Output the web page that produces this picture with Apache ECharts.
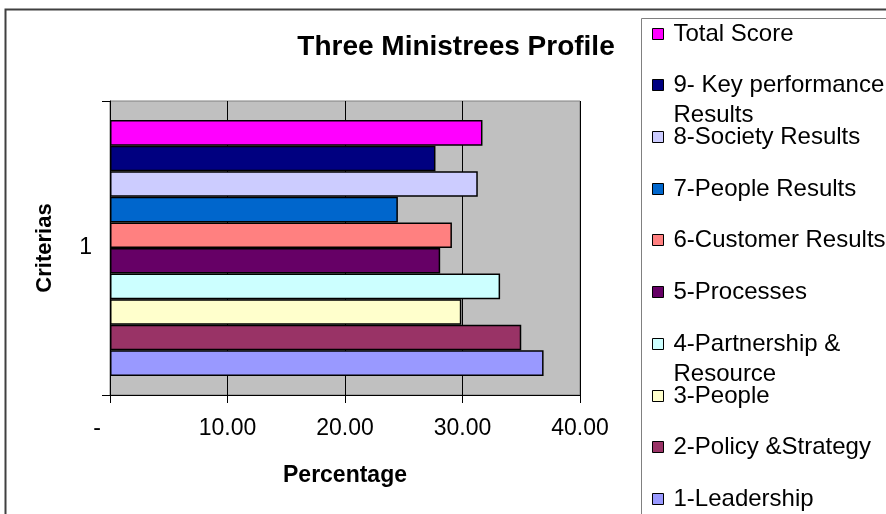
<!DOCTYPE html>
<html>
<head>
<meta charset="utf-8">
<script src="https://cdn.jsdelivr.net/npm/echarts@6/dist/echarts.min.js"></script>
<style>
  html, body { margin: 0; padding: 0; background: #ffffff; }
  #chart { width: 886px; height: 514px; }
</style>
</head>
<body>
<div id="chart"></div>
<script>
// Chart data
const categories = ['1'];
const seriesNames = [
  'Total Score',
  '9- Key performance\nResults',
  '8-Society Results',
  '7-People Results',
  '6-Customer Results',
  '5-Processes',
  '4-Partnership &\nResource',
  '3-People',
  '2-Policy &Strategy',
  '1-Leadership'
];
const seriesValues = [31.7, 27.7, 31.3, 24.5, 29.1, 28.1, 33.2, 29.9, 35.0, 36.9];
const seriesColors = [
  '#FF00FF', '#000080', '#CCCCFF', '#0066CC', '#FF8080',
  '#660066', '#CCFFFF', '#FFFFCC', '#993366', '#9999FF'
];
const xTickValues = [0, 10, 20, 30, 40];

const FONT = '"Liberation Sans", Arial, Helvetica, sans-serif';

// Vertical centre of each legend entry's first line
const legendRowY = [34, 85, 137, 189, 240, 292, 344, 396, 447, 499];

const series = seriesNames.map((name, i) => ({
  name: name,
  type: 'bar',
  data: [seriesValues[i]],
  barGap: '0%',
  barCategoryGap: '13%',
  itemStyle: { color: seriesColors[i], borderColor: '#000000', borderWidth: 1.5 },
  emphasis: { disabled: true },
  silent: true
}));

const LINE_H = 30;
const legends = seriesNames.map((name, i) => {
  const multi = name.indexOf('\n') >= 0;
  const h = multi ? LINE_H * 3 : LINE_H;
  return {
    data: [name],
    left: 652,
    top: legendRowY[i] - h / 2,
    padding: 0,
    orient: 'vertical',
    icon: 'rect',
    itemWidth: 11,
    itemHeight: 11,
    selectedMode: false,
    itemStyle: { borderColor: '#000000', borderWidth: 1 },
    formatter: n => (n.indexOf('\n') >= 0 ? '\n' + n : n),
    textStyle: {
      fontFamily: FONT, fontSize: 24, color: '#000000',
      lineHeight: LINE_H, padding: [0, 0, 0, 5]
    }
  };
});

const chart = echarts.init(document.getElementById('chart'), null, { renderer: 'canvas' });
chart.setOption({
  animation: false,
  backgroundColor: '#ffffff',
  title: {
    text: 'Three Ministrees Profile',
    left: 451,
    top: 28,
    textAlign: 'center',
    textStyle: { fontFamily: FONT, fontSize: 28, fontWeight: 'bold', color: '#000000' }
  },
  legend: legends,
  grid: {
    left: 110, right: 306, top: 101, bottom: 119,
    show: true, backgroundColor: '#C0C0C0', borderColor: '#808080', borderWidth: 1
  },
  xAxis: {
    type: 'value',
    min: 0, max: 40, interval: 10,
    name: 'Percentage',
    nameLocation: 'middle',
    nameGap: 69,
    nameTextStyle: { fontFamily: FONT, fontSize: 23, fontWeight: 'bold', color: '#000000' },
    axisLine: { show: true, lineStyle: { color: '#000000', width: 1 } },
    axisTick: { show: true, length: 8, lineStyle: { color: '#000000' }, customValues: xTickValues },
    splitLine: { show: true, lineStyle: { color: '#000000', width: 1 } },
    axisLabel: {
      margin: 22,
      fontFamily: FONT, fontSize: 23, color: '#000000',
      customValues: xTickValues,
      formatter: v => (v === 0 ? '{dash|-}' : v.toFixed(2)),
      rich: { dash: { fontFamily: FONT, fontSize: 23, color: '#000000', padding: [0, 26, 0, 0] } }
    }
  },
  yAxis: {
    type: 'category',
    data: categories,
    name: 'Criterias',
    nameLocation: 'middle',
    nameGap: 54,
    nameRotate: 90,
    nameTextStyle: { fontFamily: FONT, fontSize: 22, fontWeight: 'bold', color: '#000000' },
    axisLine: { show: true, lineStyle: { color: '#000000', width: 1 } },
    axisTick: { show: true, length: 8, lineStyle: { color: '#000000' } },
    axisLabel: { margin: 18, fontFamily: FONT, fontSize: 23, color: '#000000' }
  },
  graphic: [
    // Chart frame (extends past the right and bottom edges)
    { type: 'rect', shape: { x: 5.5, y: 9.5, width: 1200, height: 1200 },
      style: { fill: null, stroke: '#404040', lineWidth: 2 }, silent: true, z: 0 },
    // Legend frame
    { type: 'rect', shape: { x: 641.5, y: 18.5, width: 600, height: 600 },
      style: { fill: null, stroke: '#808080', lineWidth: 1 }, silent: true, z: 0 }
  ],
  series: series
});
</script>
</body>
</html>
